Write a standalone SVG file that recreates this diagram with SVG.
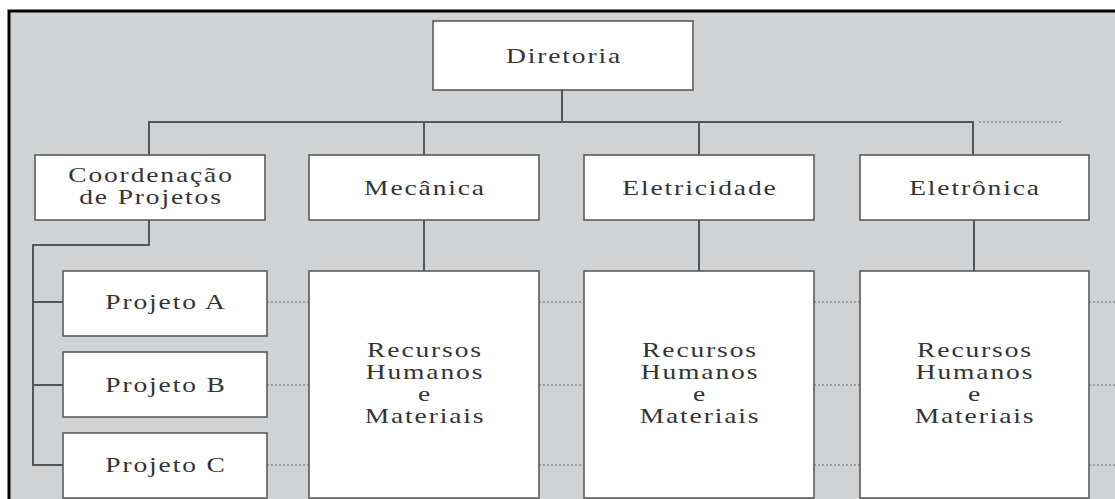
<svg xmlns="http://www.w3.org/2000/svg" width="1115" height="499" viewBox="0 0 1115 499">
<style>
.box{fill:#fff;stroke:#5a5a5a;stroke-width:1.6}
.t{font-family:"Liberation Serif","DejaVu Serif",serif;font-size:22px;fill:#333;text-anchor:middle;letter-spacing:1.5px}
.ln{fill:none;stroke:#555;stroke-width:2}
.dot{fill:none;stroke:#666;stroke-width:1.2;stroke-dasharray:2 2}
</style>
<rect x="0" y="0" width="1115" height="499" fill="#fff"/>
<rect x="9" y="11" width="1120" height="500" fill="#d1d2d4" stroke="#000" stroke-width="3"/>
<g id="connectors">
<path class="ln" d="M562 90V122M149 155V122H973V155M424 122V155M699 122V155"/>
<path class="ln" d="M424 220V271M699 220V271M974 220V271"/>
<path class="ln" d="M149 220V245H33V465H64M33 302H64M33 385H64"/>
<path class="dot" d="M979 122H1062"/>
<path class="dot" d="M267 302H309M267 385H309M267 465H309M539 302H584M539 385H584M539 465H584M814 302H860M814 385H860M814 465H860M1089 302H1115M1089 385H1115M1089 465H1115"/>
</g>
<g id="diretoria"><rect class="box" x="433" y="21" width="260" height="69"/><text class="t" transform="translate(564 63) scale(1.25 1)">Diretoria</text></g>
<g id="coordenacao"><rect class="box" x="35" y="155" width="230" height="65"/><text class="t" transform="translate(151 182) scale(1.25 1)">Coordenação</text><text class="t" transform="translate(151 204) scale(1.25 1)">de Projetos</text></g>
<g id="mecanica"><rect class="box" x="309" y="155" width="230" height="65"/><text class="t" transform="translate(425 195) scale(1.25 1)">Mecânica</text></g>
<g id="eletricidade"><rect class="box" x="584" y="155" width="230" height="65"/><text class="t" transform="translate(700 195) scale(1.25 1)">Eletricidade</text></g>
<g id="eletronica"><rect class="box" x="860" y="155" width="229" height="65"/><text class="t" transform="translate(975 195) scale(1.25 1)">Eletrônica</text></g>
<g id="projetoA"><rect class="box" x="63" y="271" width="204" height="65"/><text class="t" transform="translate(166 309) scale(1.25 1)">Projeto A</text></g>
<g id="projetoB"><rect class="box" x="63" y="352" width="204" height="65"/><text class="t" transform="translate(166 392) scale(1.25 1)">Projeto B</text></g>
<g id="projetoC"><rect class="box" x="63" y="433" width="204" height="65"/><text class="t" transform="translate(166 472) scale(1.25 1)">Projeto C</text></g>
<g id="recursos-mecanica"><rect class="box" x="309" y="271" width="230" height="227"/><text class="t" transform="translate(425 357) scale(1.25 1)">Recursos</text><text class="t" transform="translate(425 379) scale(1.25 1)">Humanos</text><text class="t" transform="translate(425 401) scale(1.25 1)">e</text><text class="t" transform="translate(425 423) scale(1.25 1)">Materiais</text></g>
<g id="recursos-eletricidade"><rect class="box" x="584" y="271" width="230" height="227"/><text class="t" transform="translate(700 357) scale(1.25 1)">Recursos</text><text class="t" transform="translate(700 379) scale(1.25 1)">Humanos</text><text class="t" transform="translate(700 401) scale(1.25 1)">e</text><text class="t" transform="translate(700 423) scale(1.25 1)">Materiais</text></g>
<g id="recursos-eletronica"><rect class="box" x="860" y="271" width="229" height="227"/><text class="t" transform="translate(975 357) scale(1.25 1)">Recursos</text><text class="t" transform="translate(975 379) scale(1.25 1)">Humanos</text><text class="t" transform="translate(975 401) scale(1.25 1)">e</text><text class="t" transform="translate(975 423) scale(1.25 1)">Materiais</text></g>
</svg>
